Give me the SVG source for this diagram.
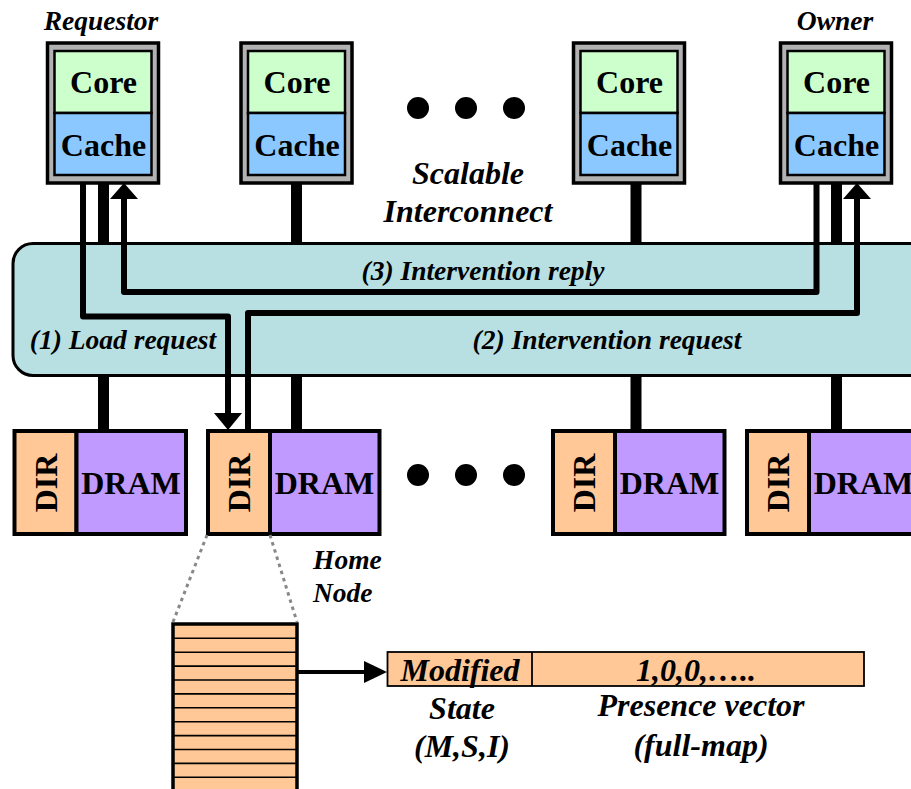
<svg xmlns="http://www.w3.org/2000/svg" xmlns:xlink="http://www.w3.org/1999/xlink" width="911" height="789" viewBox="0 0 911 789">
<style>
text{font-family:"Liberation Serif","Times New Roman",serif;font-weight:bold;fill:#000;text-anchor:middle}
.b{font-size:32px}
.i{font-style:italic;font-size:32px}
.s{font-style:italic;font-size:27.500px}
.outer{fill:#b2b2b2;stroke:#000;stroke-width:3.5}
.core{fill:#ccffcc;stroke:#000;stroke-width:2.5}
.cache{fill:#8ac8ff;stroke:#000;stroke-width:2.5}
.dir{fill:#ffc896;stroke:#000;stroke-width:4}
.dram{fill:#c09aff;stroke:#000;stroke-width:4}
.stub{stroke:#000;stroke-width:11;fill:none}
.wire{stroke:#000;stroke-width:6;fill:none;stroke-linejoin:round}
.dot{stroke:#888;stroke-width:3;stroke-dasharray:3.5 4;fill:none}
.row{stroke:#000;stroke-width:1.6}
</style>
<defs>
<g id="cpu">
<rect class="outer" x="1.5" y="0" width="111" height="140"/>
<rect class="core" x="8.500" y="8" width="97" height="62"/>
<rect class="cache" x="8.500" y="70" width="97" height="62"/>
<text class="b" x="57.500" y="50">Core</text>
<text class="b" x="57.500" y="113">Cache</text>
</g>
<g id="mem">
<rect class="dir" x="2" y="2" width="62" height="103"/>
<rect class="dram" x="64" y="2" width="109.500" height="103"/>
<text class="b" transform="translate(44,54) rotate(-90)" y="0" x="0">DIR</text>
<text class="b" x="118.500" y="65">DRAM</text>
</g>
</defs>
<g id="bus"><rect x="13" y="243.500" width="930" height="132" rx="20" fill="#b8e0e2" stroke="#000" stroke-width="3"/></g>
<g id="node-requestor"><use xlink:href="#cpu" x="46" y="43"/><text class="s" x="101" y="30">Requestor</text></g>
<g id="node-core2"><use xlink:href="#cpu" x="239.500" y="43"/></g>
<g id="node-core3"><use xlink:href="#cpu" x="572" y="43"/></g>
<g id="node-owner"><use xlink:href="#cpu" x="779" y="43"/><text class="s" x="835" y="30">Owner</text></g>
<g id="node-mem1"><use xlink:href="#mem" x="12.500" y="429"/></g>
<g id="node-home"><use xlink:href="#mem" x="206" y="429"/><text class="s" x="313" y="569" style="text-anchor:start">Home</text><text class="s" x="313" y="602" style="text-anchor:start">Node</text></g>
<g id="node-mem3"><use xlink:href="#mem" x="551" y="429"/></g>
<g id="node-mem4"><use xlink:href="#mem" x="745" y="429"/></g>
<g id="ellipsis-top" fill="#000"><circle cx="418" cy="108" r="11"/><circle cx="466" cy="108" r="11"/><circle cx="514" cy="108" r="11"/></g>
<g id="ellipsis-bottom" fill="#000"><circle cx="418" cy="475" r="11"/><circle cx="466" cy="475" r="11"/><circle cx="514" cy="475" r="11"/></g>
<g id="labels">
<text class="i" x="468" y="184">Scalable</text>
<text class="i" x="468" y="222">Interconnect</text>
<text class="s" x="483" y="280">(3) Intervention reply</text>
<text class="s" x="123" y="348.500">(1) Load request</text>
<text class="s" x="607" y="348.500">(2) Intervention request</text>
</g>
<g id="directory">
<rect x="173" y="624" width="124" height="175" fill="#ffc896" stroke="#000" stroke-width="3.5"/>
<path class="row" d="M173 638.300H297M173 652.200H297M173 666.100H297M173 680H297M173 693.900H297M173 707.800H297M173 721.700H297M173 735.600H297M173 749.500H297M173 763.400H297M173 777.300H297"/>
</g>
<g id="entry">
<rect x="387.500" y="652" width="476.500" height="34" fill="#ffc896" stroke="#000" stroke-width="1.800"/>
<line x1="532" y1="652" x2="532" y2="686" stroke="#000" stroke-width="1.800"/>
<text class="i" x="460" y="681">Modified</text>
<text class="i" x="696" y="681">1,0,0,…..</text>
<text class="i" x="462" y="719">State</text>
<text class="i" x="462" y="757">(M,S,I)</text>
<text class="i" x="701" y="716">Presence vector</text>
<text class="i" x="701" y="756">(full-map)</text>
</g>
<g id="connectors">
<path class="stub" d="M103.500 183V243M296.500 183V243M636 183V243M836.500 183V243M103.500 376V430M296.500 376V430M636 376V430M836.500 376V430"/>
<path class="wire" d="M83 183V316.500H228V415"/>
<path d="M214 413H242L228 430Z" fill="#000"/>
<path class="wire" d="M248 430V313H857V197"/>
<path d="M843 199H871L857 183Z" fill="#000"/>
<path class="wire" d="M816.500 183V292H124V197"/>
<path d="M110 199H138L124 183Z" fill="#000"/>
<path class="dot" d="M207 535L173 622M270 535L297 622"/>
<line x1="297" y1="672" x2="366" y2="672" stroke="#000" stroke-width="4"/>
<path d="M364 661V683L387 672Z" fill="#000"/>
</g>
</svg>
